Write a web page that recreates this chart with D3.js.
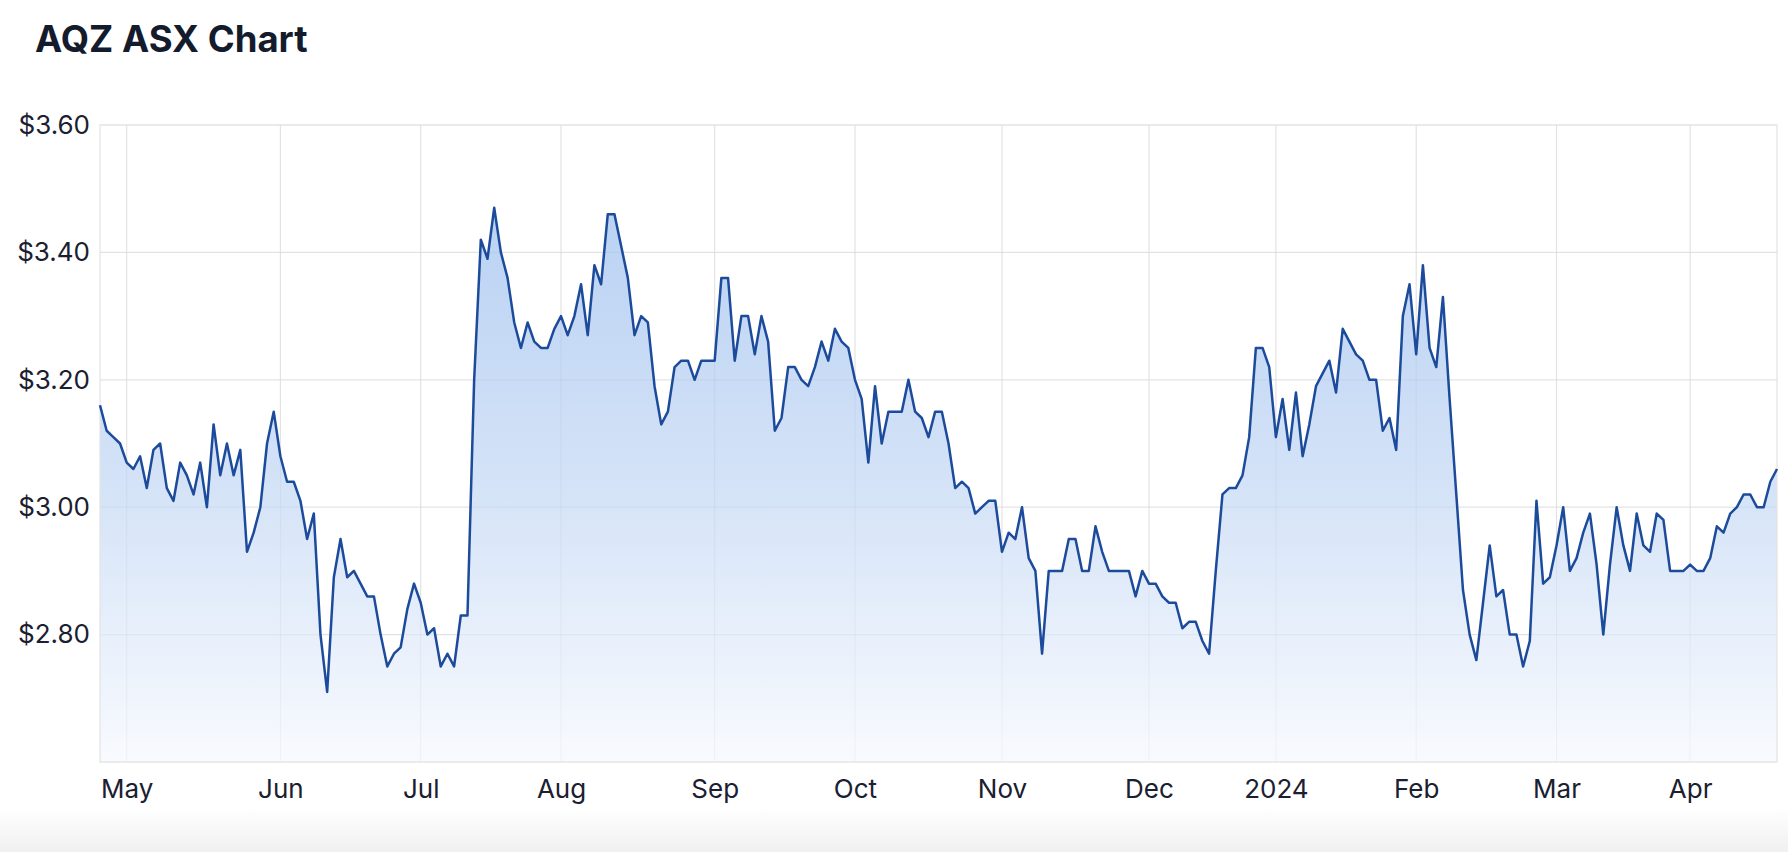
<!DOCTYPE html>
<html>
<head>
<meta charset="utf-8">
<script src="https://cdn.jsdelivr.net/npm/d3@7"></script>
<style>
  html, body { margin: 0; padding: 0; background: #fff; }
  svg { display: block; font-family: Inter, "Noto Sans", sans-serif; }
</style>
</head>
<body>
<svg id="chart" width="1788" height="852"></svg>
<script>
// ---- data ----
const title = "AQZ ASX Chart";
const startDate = "2023-04-24";
const asxHolidays = ["2023-04-25", "2023-06-12", "2023-12-25", "2023-12-26",
                     "2024-01-01", "2024-01-26", "2024-03-29", "2024-04-01"];
const closePrices = [
  3.16, 3.12, 3.11, 3.10, 3.07, 3.06, 3.08, 3.03, 3.09, 3.10,
  3.03, 3.01, 3.07, 3.05, 3.02, 3.07, 3.00, 3.13, 3.05, 3.10,
  3.05, 3.09, 2.93, 2.96, 3.00, 3.10, 3.15, 3.08, 3.04, 3.04,
  3.01, 2.95, 2.99, 2.80, 2.71, 2.89, 2.95, 2.89, 2.90, 2.88,
  2.86, 2.86, 2.80, 2.75, 2.77, 2.78, 2.84, 2.88, 2.85, 2.80,
  2.81, 2.75, 2.77, 2.75, 2.83, 2.83, 3.20, 3.42, 3.39, 3.47,
  3.40, 3.36, 3.29, 3.25, 3.29, 3.26, 3.25, 3.25, 3.28, 3.30,
  3.27, 3.30, 3.35, 3.27, 3.38, 3.35, 3.46, 3.46, 3.41, 3.36,
  3.27, 3.30, 3.29, 3.19, 3.13, 3.15, 3.22, 3.23, 3.23, 3.20,
  3.23, 3.23, 3.23, 3.36, 3.36, 3.23, 3.30, 3.30, 3.24, 3.30,
  3.26, 3.12, 3.14, 3.22, 3.22, 3.20, 3.19, 3.22, 3.26, 3.23,
  3.28, 3.26, 3.25, 3.20, 3.17, 3.07, 3.19, 3.10, 3.15, 3.15,
  3.15, 3.20, 3.15, 3.14, 3.11, 3.15, 3.15, 3.10, 3.03, 3.04,
  3.03, 2.99, 3.00, 3.01, 3.01, 2.93, 2.96, 2.95, 3.00, 2.92,
  2.90, 2.77, 2.90, 2.90, 2.90, 2.95, 2.95, 2.90, 2.90, 2.97,
  2.93, 2.90, 2.90, 2.90, 2.90, 2.86, 2.90, 2.88, 2.88, 2.86,
  2.85, 2.85, 2.81, 2.82, 2.82, 2.79, 2.77, 2.90, 3.02, 3.03,
  3.03, 3.05, 3.11, 3.25, 3.25, 3.22, 3.11, 3.17, 3.09, 3.18,
  3.08, 3.13, 3.19, 3.21, 3.23, 3.18, 3.28, 3.26, 3.24, 3.23,
  3.20, 3.20, 3.12, 3.14, 3.09, 3.30, 3.35, 3.24, 3.38, 3.25,
  3.22, 3.33, 3.17, 3.02, 2.87, 2.80, 2.76, 2.85, 2.94, 2.86,
  2.87, 2.80, 2.80, 2.75, 2.79, 3.01, 2.88, 2.89, 2.94, 3.00,
  2.90, 2.92, 2.96, 2.99, 2.91, 2.80, 2.91, 3.00, 2.94, 2.90,
  2.99, 2.94, 2.93, 2.99, 2.98, 2.90, 2.90, 2.90, 2.91, 2.90,
  2.90, 2.92, 2.97, 2.96, 2.99, 3.00, 3.02, 3.02, 3.00, 3.00,
  3.04, 3.06
];
const yDomain = [2.60, 3.60];
const yTickValues = [2.60, 2.80, 3.00, 3.20, 3.40, 3.60];
const yLabelValues = [2.80, 3.00, 3.20, 3.40, 3.60];

// ---- trading-day calendar ----
const parse = d3.timeParse("%Y-%m-%d");
const fmtKey = d3.timeFormat("%Y-%m-%d");
const holidaySet = new Set(asxHolidays);
const dates = [];
let cur = parse(startDate);
while (dates.length < closePrices.length) {
  const wd = cur.getDay();
  if (wd !== 0 && wd !== 6 && !holidaySet.has(fmtKey(cur))) dates.push(new Date(cur));
  cur = d3.timeDay.offset(cur, 1);
}
const data = closePrices.map((v, i) => ({ i, date: dates[i], value: v }));

// first trading day of each month (after the first partial month)
const monthTicks = data.filter((d, k) => k > 0 && d.date.getMonth() !== data[k - 1].date.getMonth());
const monthLabel = d => d.date.getMonth() === 0 ? d3.timeFormat("%Y")(d.date) : d3.timeFormat("%b")(d.date);

// ---- layout ----
const svg = d3.select("#chart");
const W = 1788, H = 852;
const margin = { left: 100, right: 11, top: 125, bottom: 90 };
const x = d3.scaleLinear().domain([0, closePrices.length - 1]).range([margin.left, W - margin.right]);
const y = d3.scaleLinear().domain(yDomain).range([H - margin.bottom, margin.top]);

const defs = svg.append("defs");
const pageGrad = defs.append("linearGradient").attr("id", "pageGrad").attr("x1", 0).attr("x2", 0).attr("y1", 0).attr("y2", 1);
pageGrad.append("stop").attr("offset", "0%").attr("stop-color", "#ffffff");
pageGrad.append("stop").attr("offset", "100%").attr("stop-color", "#f0f0f1");
svg.append("rect").attr("x", 0).attr("y", 808).attr("width", W).attr("height", H - 808).attr("fill", "url(#pageGrad)");

const areaGrad = defs.append("linearGradient").attr("id", "areaGrad")
  .attr("gradientUnits", "userSpaceOnUse").attr("x1", 0).attr("x2", 0)
  .attr("y1", y(yDomain[1])).attr("y2", y(yDomain[0]));
areaGrad.append("stop").attr("offset", "0%").attr("stop-color", "#b2cdf2");
areaGrad.append("stop").attr("offset", "55%").attr("stop-color", "#d3e2f7");
areaGrad.append("stop").attr("offset", "100%").attr("stop-color", "#f8fafe");

// title
svg.append("text").attr("x", 35).attr("y", 52)
  .attr("font-size", 36.5).attr("font-weight", 700).attr("fill", "#141b2d")
  .text(title);

// grid
const gridColor = "#ebebeb";
svg.append("g").selectAll("line").data(yTickValues).join("line")
  .attr("x1", x.range()[0]).attr("x2", x.range()[1])
  .attr("y1", d => y(d)).attr("y2", d => y(d))
  .attr("stroke", gridColor).attr("stroke-width", 1.2);
svg.append("g").selectAll("line").data(monthTicks).join("line")
  .attr("x1", d => x(d.i)).attr("x2", d => x(d.i))
  .attr("y1", y.range()[1]).attr("y2", y.range()[0])
  .attr("stroke", gridColor).attr("stroke-width", 1.2);

// area
svg.append("path").datum(data)
  .attr("d", d3.area().x(d => x(d.i)).y0(y(yDomain[0])).y1(d => y(d.value)))
  .attr("fill", "url(#areaGrad)");

// faint grid lines over the area
svg.append("g").selectAll("line").data(yTickValues.slice(1, -1)).join("line")
  .attr("x1", x.range()[0]).attr("x2", x.range()[1])
  .attr("y1", d => y(d)).attr("y2", d => y(d))
  .attr("stroke", "#000").attr("stroke-opacity", 0.035).attr("stroke-width", 1.2);
svg.append("g").selectAll("line").data(monthTicks).join("line")
  .attr("x1", d => x(d.i)).attr("x2", d => x(d.i))
  .attr("y1", y.range()[1]).attr("y2", y.range()[0])
  .attr("stroke", "#000").attr("stroke-opacity", 0.035).attr("stroke-width", 1.2);

// border
svg.append("rect")
  .attr("x", x.range()[0]).attr("y", y.range()[1])
  .attr("width", x.range()[1] - x.range()[0]).attr("height", y.range()[0] - y.range()[1])
  .attr("fill", "none").attr("stroke", "#e3e3e3").attr("stroke-width", 1.2);

// line
svg.append("path").datum(data)
  .attr("d", d3.line().x(d => x(d.i)).y(d => y(d.value)))
  .attr("fill", "none").attr("stroke", "#1c4b9b").attr("stroke-width", 2.5)
  .attr("stroke-linejoin", "round");

// axes labels
const yAxis = d3.axisLeft(y).tickValues(yLabelValues).tickSize(0).tickPadding(10)
  .tickFormat(d => "$" + d3.format(".2f")(d));
const gy = svg.append("g").attr("transform", `translate(${margin.left},0)`).call(yAxis);
gy.select(".domain").remove();
gy.selectAll("text").attr("font-size", 26).attr("fill", "#1a2030").attr("font-family", "Inter, sans-serif");

const xAxis = d3.axisBottom(x).tickValues(monthTicks.map(d => d.i)).tickSize(0).tickPadding(18)
  .tickFormat((v, k) => monthLabel(monthTicks[k]));
const gx = svg.append("g").attr("transform", `translate(0,${y.range()[0]})`).call(xAxis);
gx.select(".domain").remove();
gx.selectAll("text").attr("font-size", 26).attr("fill", "#1a2030").attr("font-family", "Inter, sans-serif");
</script>
</body>
</html>
